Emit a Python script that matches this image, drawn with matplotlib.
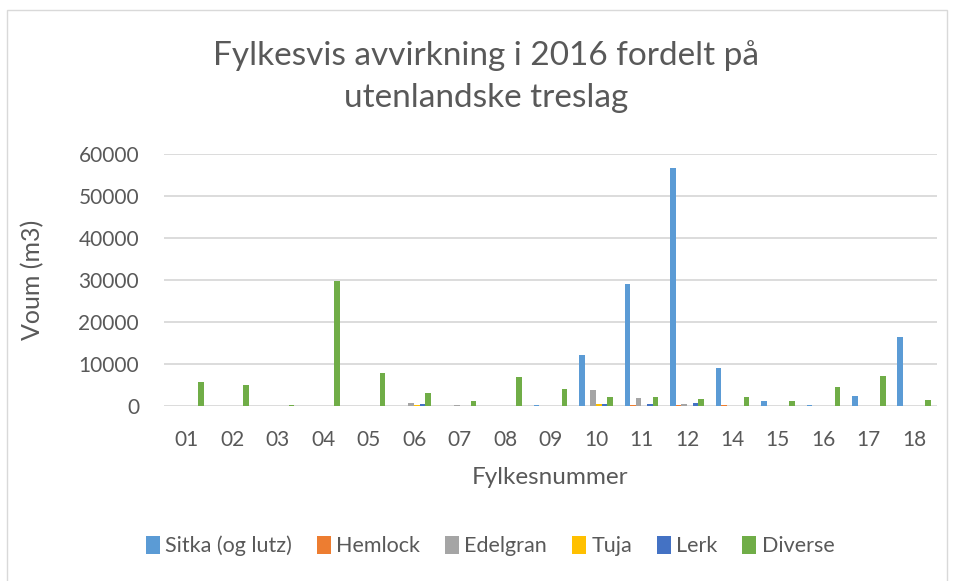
import numpy as np
import matplotlib.pyplot as plt
from matplotlib.patches import Rectangle

plt.rcParams['font.family'] = ['Lato', 'DejaVu Sans']

# Fylke numbers on the x axis
fylker = ['01', '02', '03', '04', '05', '06', '07', '08', '09',
          '10', '11', '12', '14', '15', '16', '17', '18']

# Harvested volume (m3) per tree species
sitka    = [0, 0, 0, 0, 0, 0, 0, 0, 300, 12100, 29100, 56700, 9100, 1200, 300, 2500, 16500]
hemlock  = [0, 0, 0, 0, 0, 0, 0, 0, 0, 0, 250, 150, 300, 0, 0, 0, 0]
edelgran = [0, 0, 0, 0, 0, 800, 250, 0, 0, 3750, 1950, 450, 100, 0, 0, 0, 0]
tuja     = [0, 0, 0, 0, 0, 200, 0, 0, 0, 450, 0, 0, 0, 0, 0, 0, 0]
lerk     = [0, 0, 0, 0, 0, 500, 0, 0, 0, 450, 450, 800, 0, 0, 0, 0, 0]
diverse  = [5600, 4900, 300, 29700, 7850, 3150, 1100, 6900, 4000, 2150, 2050, 1650, 2050, 1300, 4500, 7050, 1400]

series = [
    ('Sitka (og lutz)', sitka, '#5B9BD5'),
    ('Hemlock', hemlock, '#ED7D31'),
    ('Edelgran', edelgran, '#A5A5A5'),
    ('Tuja', tuja, '#FFC000'),
    ('Lerk', lerk, '#4472C4'),
    ('Diverse', diverse, '#70AD47'),
]

txt = '#595959'
grid = '#D9D9D9'

fig = plt.figure(figsize=(9.55, 5.81), dpi=100)
ax = fig.add_axes([164/955, 1 - 406/581, (937 - 164)/955, (406 - 154)/581])

x = np.arange(len(fylker))
w = 0.123
for i, (name, vals, col) in enumerate(series):
    ax.bar(x + (i - 2.5) * w, vals, width=w, color=col, label=name, zorder=3)

ax.set_xlim(-0.5, len(fylker) - 0.5)
ax.set_ylim(0, 60000)
ax.set_yticks(np.arange(0, 60001, 10000))
ax.set_xticks(x)
ax.set_xticklabels(fylker)
ax.yaxis.grid(True, color=grid, linewidth=1.3, zorder=0)
for s in ax.spines.values():
    s.set_visible(False)
ax.tick_params(axis='both', length=0, labelsize=15, labelcolor=txt)
ax.tick_params(axis='x', pad=17)
ax.tick_params(axis='y', pad=18)

fig.text(486/955, 1 - 77/581, 'Fylkesvis avvirkning i 2016 fordelt på\nutenlandske treslag',
         ha='center', va='center', fontsize=24, color=txt, linespacing=1.5)
fig.text(33/955, 1 - 280/581, 'Voum (m3)', rotation=90, ha='center', va='center',
         fontsize=18, color=txt)
fig.text(550/955, 1 - 477/581, 'Fylkesnummer', ha='center', va='center',
         fontsize=17.5, color=txt)

fig.legend(loc='center', bbox_to_anchor=(490/955, 1 - 546/581), ncol=6, frameon=False,
           fontsize=15.5, labelcolor=txt, handlelength=0.65, handleheight=0.9,
           handletextpad=0.25, columnspacing=1.15)

fig.patches.append(Rectangle((7/955, -0.05), 940/955, 1.05 - 10/581,
                             transform=fig.transFigure, fill=False,
                             edgecolor=grid, linewidth=1.0))

fig.savefig('out.png', dpi=100)
